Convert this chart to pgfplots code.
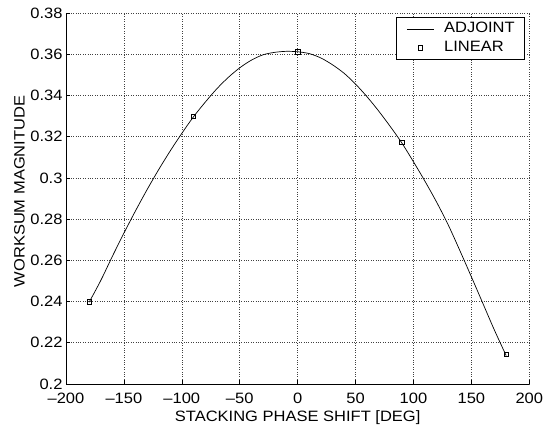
\documentclass[border=0pt]{standalone}
\usepackage{fontspec}
\setmainfont{Liberation Sans}[FakeStretch=1.1]
\usepackage{pgfplots}
\pgfplotsset{compat=1.18}
\pgfplotsset{
  linelegend/.style={legend image code/.code={\draw[##1] (0pt,0pt) -- (27pt,0pt);}},
  marklegend/.style={legend image code/.code={\draw[##1] plot coordinates {(13.5pt,0pt)};}},
}

\begin{document}
\fontsize{15}{18}\selectfont
\begin{tikzpicture}
\begin{axis}[
  at={(0,0)}, anchor=south west,
  scale only axis, width=463.3pt, height=371pt,
  xmin=-200, xmax=200, ymin=0.2, ymax=0.38,
  axis x line*=bottom, axis y line*=left,
  axis line style={-, line width=0.8pt},
  tick align=inside, major tick length=4pt,
  tick style={black, line width=0.6pt},
  xtick={-200,-150,-100,-50,0,50,100,150,200},
  xticklabels={–200,–150,–100,–50,0,50,100,150,200},
  ytick={0.2,0.22,0.24,0.26,0.28,0.3,0.32,0.34,0.36,0.38},
  yticklabels={0.2,0.22,0.24,0.26,0.28,0.3,0.32,0.34,0.36,0.38},
  grid=major,
  major grid style={dotted, line width=0.6pt, black!75},
  xticklabel style={inner sep=0pt, anchor=north, yshift=-8.5pt},
  yticklabel style={inner sep=0pt, anchor=east, xshift=-3.3pt},
  xlabel={STACKING PHASE SHIFT [DEG]},
  ylabel={WORKSUM MAGNITUDE},
  xlabel style={at={([yshift=-26pt]axis description cs:0.5,0)}, anchor=north, inner sep=0pt},
  ylabel style={at={([xshift=-41pt,yshift=7pt]axis description cs:0,0.5)}, anchor=south, inner sep=0pt},
  legend cell align=left,
  legend style={at={([xshift=-4.3pt,yshift=-3.7pt]axis description cs:1,1)},
    anchor=north east, draw=black, line width=0.6pt, fill=white,
    inner xsep=10pt, inner ysep=5.5pt, row sep=6pt,
    nodes={inner sep=0pt, text depth=0.15em},
    /tikz/every odd column/.append style={column sep=10pt}},
]
% adjoint solution, read off every 10 deg
\addplot[black, line width=0.7pt, smooth, linelegend] table {
-180 0.2397
-170 0.2502
-160 0.2619
-150 0.2732
-140 0.2840
-130 0.2943
-120 0.3040
-110 0.3131
-100 0.3216
-90  0.3296
-80  0.3366
-70  0.3431
-60  0.3487
-50  0.3534
-40  0.3571
-30  0.3597
-20  0.3609
-10  0.3614
0    0.3612
10   0.3603
20   0.3582
30   0.3549
40   0.3508
50   0.3455
60   0.3393
70   0.3324
80   0.3249
90   0.3169
100  0.3078
110  0.2983
120  0.2882
130  0.2772
140  0.2648
150  0.2520
160  0.2390
170  0.2260
180  0.2138
};
\addplot[only marks, mark=square, mark size=2.3pt, black, line width=0.6pt, marklegend] coordinates {
(-180,0.2400) (-90,0.3298) (0,0.3613) (90,0.3172) (180,0.2145)
};
\legend{ADJOINT, LINEAR}
\end{axis}
\pgfresetboundingbox
\path (-66pt,-42pt) rectangle (479pt,384pt);
\end{tikzpicture}
\end{document}
